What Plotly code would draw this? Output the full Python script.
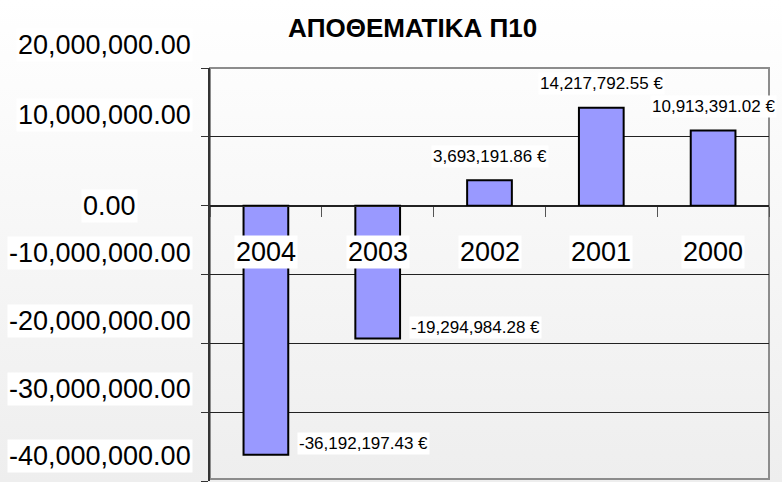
import base64
import plotly.graph_objects as go

# ---- data ----
years = ["2004", "2003", "2002", "2001", "2000"]
reserves = [-36192197.43, -19294984.28, 3693191.86, 14217792.55, 10913391.02]
tick_values = [20e6, 10e6, 0, -10e6, -20e6, -30e6, -40e6]
tick_labels = [f"{v:,.2f}" for v in tick_values]
title_text = "ΑΠΟΘΕΜΑΤΙΚΑ Π10"

# ---- layout constants ----
W, H = 782, 482
ML, MR, MT, MB = 210, 13, 68, 1
PW, PH = W - ML - MR, H - MT - MB
FONT = "Liberation Sans, Arial, sans-serif"

# tick label offsets (as in the reference image)
tick_yshift = [23, 22, 0, 22, 22, 23, 25]
tick_xshift = [-17, -17, -72, -17, -17, -17, -17]

fig = go.Figure()
fig.add_trace(go.Bar(
    x=years, y=reserves,
    marker=dict(color="#9999FF", line=dict(color="#000000", width=2)),
    hoverinfo="skip",
))

annotations = []
# y tick labels
for v, t, ys, xs in zip(tick_values, tick_labels, tick_yshift, tick_xshift):
    annotations.append(dict(
        x=0, xref="paper", y=v, yref="y", text=t, showarrow=False,
        xanchor="right", yanchor="middle", xshift=xs, yshift=ys,
        font=dict(family=FONT, size=27, color="#000"),
        bgcolor="#ffffff", borderpad=1,
    ))
# category labels (category axis: positions are category indices)
for i, yr in enumerate(years):
    annotations.append(dict(
        x=i, xref="x", y=0, yref="y", text=yr, showarrow=False,
        xanchor="center", yanchor="middle", yshift=-46,
        font=dict(family=FONT, size=27, color="#000"),
        bgcolor="#ffffff", borderpad=1,
    ))
# data labels
for i, v in enumerate(reserves):
    txt = f"{v:,.2f} €"
    if v >= 0:
        annotations.append(dict(
            x=i, xref="x", y=v, yref="y", text=txt, showarrow=False,
            xanchor="center", yanchor="middle", yshift=24,
            font=dict(family=FONT, size=17, color="#000"),
            bgcolor="#ffffff", borderpad=1,
        ))
    else:
        annotations.append(dict(
            x=i, xref="x", y=v, yref="y", text=txt, showarrow=False,
            xanchor="left", yanchor="middle", xshift=31, yshift=11,
            font=dict(family=FONT, size=17, color="#000"),
            bgcolor="#ffffff", borderpad=1,
        ))
# title
annotations.append(dict(
    x=(412 - ML) / PW, xref="paper", y=1 + (MT - 28) / PH, yref="paper",
    text=f"<b>{title_text}</b>", showarrow=False, xanchor="center", yanchor="middle",
    font=dict(family=FONT, size=26, color="#000"),
))

svg = ('<svg xmlns="http://www.w3.org/2000/svg" width="782" height="482">'
       '<defs><linearGradient id="g" x1="0" y1="0" x2="0" y2="1">'
       '<stop offset="0" stop-color="#ffffff"/><stop offset="1" stop-color="#eeeeee"/>'
       '</linearGradient></defs><rect width="782" height="482" fill="url(#g)"/></svg>')
src = "data:image/svg+xml;base64," + base64.b64encode(svg.encode()).decode()

fig.update_layout(
    width=W, height=H,
    margin=dict(l=ML, r=MR, t=MT, b=MB, pad=0),
    paper_bgcolor="#ffffff", plot_bgcolor="rgba(0,0,0,0)",
    showlegend=False, bargap=0.6,
    annotations=annotations,
    images=[dict(source=src, xref="paper", yref="paper",
                 x=-ML / PW, y=1 + MT / PH, sizex=W / PW, sizey=H / PH,
                 xanchor="left", yanchor="top", sizing="stretch", layer="below")],
    shapes=[dict(type="rect", xref="paper", yref="paper", x0=0, y0=0.005, x1=1, y1=1,
                 line=dict(color="#8c8c8c", width=2), layer="below")],
    xaxis=dict(
        type="category", range=[-0.5, len(years) - 0.5], autorange=False,
        anchor="free", position=40 / 60,
        showline=True, linecolor="#222", linewidth=1,
        ticks="outside", ticklen=10, tickcolor="#555", tickson="boundaries",
        showticklabels=False, showgrid=False, zeroline=False, fixedrange=True,
    ),
    yaxis=dict(
        range=[-40e6, 20e6], autorange=False, tickvals=tick_values, showticklabels=False,
        showgrid=True, gridcolor="#222", gridwidth=1, zeroline=False,
        showline=True, linecolor="#333", linewidth=2,
        ticks="outside", ticklen=7, tickcolor="#333", fixedrange=True,
    ),
)

fig.write_html("out.html", config={"displayModeBar": False},
               post_script="document.body.style.margin='0';")
